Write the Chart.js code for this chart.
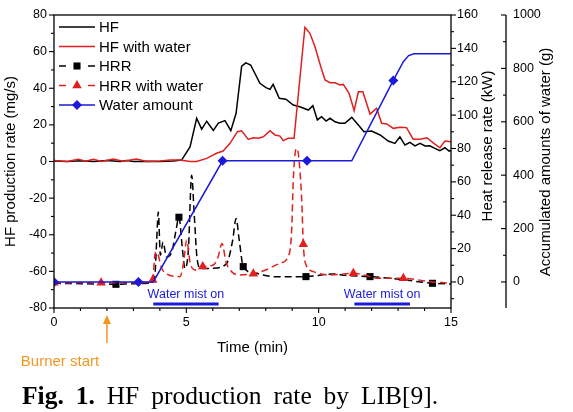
<!DOCTYPE html>
<html>
<head>
<meta charset="utf-8">
<script src="https://cdn.jsdelivr.net/npm/chart.js@4"></script>
<style>
  html, body { margin: 0; padding: 0; background: #fff; }
  #wrap { position: relative; width: 573px; height: 412px; overflow: hidden; }
  #c { position: absolute; left: 0; top: 0; }
  #caption { position: absolute; left: 22px; top: 381px; line-height: 29px; white-space: nowrap;
    font-family: "Liberation Serif", "Times New Roman", serif; font-size: 25.5px; word-spacing: 5.5px; color: #000; }
</style>
</head>
<body>
<div id="wrap">
  <canvas id="c" width="573" height="412"></canvas>
  <div id="caption"><b>Fig. 1.</b> HF production rate by LIB[9].</div>
</div>
<script>
// --- data (time in min) ---
const hfTime = [0,0.5,1,1.5,2,2.5,2.75,3,3.5,4,4.5,4.82,5.14,5.39,5.58,5.77,6.02,6.21,6.46,6.68,6.88,7.09,7.25,7.43,7.78,8.01,8.16,8.28,8.51,8.76,9.04,9.29,9.61,9.78,9.95,10.11,10.28,10.43,10.62,10.8,10.99,11.25,11.5,11.71,12.0,12.32,12.63,12.88,13.07,13.26,13.45,13.64,13.83,14.02,14.2,14.39,14.58,14.77,14.93,15];
const hfRate = [0.3,0,0.4,0,0.5,0,0.6,0,0.2,0,0.3,0.8,8,23.6,17.7,22,17,21,22.3,16.8,26.3,52.1,53.9,52.7,42.7,40.3,39.4,42.1,34.5,34,30.8,29.9,28.1,30.5,22.7,24.5,22.1,23.6,21.7,20.9,20.9,24.1,19.9,16.3,16.6,14.5,11.2,9.9,13.5,9.0,10.5,8.5,9.9,8.5,8.6,7.2,5.9,7.5,5.7,6];

const hfWaterTime = [0,0.5,0.92,1.2,1.49,1.8,2.24,2.6,3.12,3.5,4.0,4.4,4.76,5.14,5.39,5.77,6.14,6.39,6.65,6.93,7.09,7.34,7.53,7.72,7.91,8.16,8.35,8.54,8.66,8.85,9.07,9.48,9.67,9.86,10.08,10.24,10.43,10.62,10.8,10.93,11.15,11.34,11.5,11.67,11.94,12.19,12.38,12.57,12.82,13.07,13.32,13.57,13.83,14.09,14.34,14.58,14.77,15];
const hfWaterRate = [0.5,0,1.2,0.2,1.2,0,1.4,0.2,1.4,0,0.3,0.8,0.8,0,0,1.7,4.5,5.7,9.9,16.3,16.8,12.1,13,12.7,13.5,16.8,14.5,13.9,11.4,12.7,12.7,73.3,70,62.7,51.7,44.5,43,43,41.8,42.1,37.2,27.7,38.1,38.1,25.9,29,20.9,20.5,18.1,18.7,18.5,12.2,12.2,13,10,7.5,11.2,10.8];

const hrrTime = [0,1,2.34,3,3.6,3.8,3.88,3.94,4.02,4.12,4.25,4.45,4.6,4.72,4.85,4.95,5.08,5.2,5.3,5.4,5.55,6.0,6.52,6.75,6.88,7.0,7.15,7.6,8.3,8.9,9.52,10.55,11.0,11.94,13.07,14.3,15];
const hrrValue = [-0.8,-1,-1.4,-1,-0.8,2,25,42,16,24,15,18,30,38.8,20,8,20,64,40,15,8,8.2,11,25,38,25,9.2,5.2,3.2,3.2,3.2,4.8,4,3.2,1.6,-0.8,-1.2];
const hrrMarkers = [2.34,4.72,7.15,9.52,11.94,14.3];

const hrrWaterTime = [0,1.78,3.0,3.6,3.73,3.82,3.88,4.07,4.26,4.76,4.9,5.01,5.15,5.35,5.62,6.02,6.2,6.35,6.5,6.71,7.0,7.53,8.0,8.54,8.85,8.98,9.04,9.13,9.17,9.23,9.36,9.42,9.5,9.8,10.43,11.31,12.32,13.2,14.2,15];
const hrrWaterValue = [-0.5,-0.5,-0.5,-0.3,1.2,17,18,8.2,4.8,3.2,12,25,11,7.2,9.2,10.2,15,23,12,6.2,4.2,5,7.2,11.2,15.2,31,61,79,80,77,49,22.6,11.2,6.2,4.2,5.2,2.2,2.2,0.2,-0.8];
const hrrWaterMarkers = [0,1.78,3.73,5.62,7.53,9.42,11.31,13.2];

const waterTime = [0,3.19,3.75,6.37,9.56,11.25,12.82,13.2,13.4,13.6,15];
const waterAmount = [0,0,0,454,454,454,755,825,848,855,855];
const waterMarkers = [0,3.19,6.37,9.56,12.82];

const timeTicks = [0,5,10,15];
const hfTicks = [-80,-60,-40,-20,0,20,40,60,80];
const hrrTicks = [0,20,40,60,80,100,120,140,160];
const waterTicks = [0,200,400,600,800,1000];

const burnerTime = 2;
const mistPeriods = [[3.75, 6.22], [11.35, 13.45]];

const legendRows = ["HF", "HF with water", "HRR", "HRR with water", "Water amount"];

// --- styling ---
const fam = '"Liberation Sans", Arial, sans-serif';
const RED = "#e0201e", BLUE = "#1a1ad8", ORANGE = "#f4961e";
Chart.defaults.font.family = fam;
Chart.defaults.color = "#000";

const pts = (xs, ys) => xs.map((t, i) => ({ x: t, y: ys[i] }));
const markAt = (list, r) => ctx => (ctx.raw && list.includes(ctx.raw.x)) ? r : 0;

function axis(extra) {
  return Object.assign({
    grid: { display: false, drawTicks: false },
    border: { display: false },
    ticks: { color: "#000", font: { family: fam, size: 12.5 }, callback: v => String(v) }
  }, extra);
}

function tickLine(ctx, x1, y1, x2, y2) {
  ctx.beginPath(); ctx.moveTo(x1, y1); ctx.lineTo(x2, y2); ctx.stroke();
}

const decor = {
  id: "decor",
  afterDatasetsDraw(chart) {
    const { ctx, chartArea: a, scales: { x, y, yHRR, yWater } } = chart;
    ctx.save();
    ctx.strokeStyle = "#000";
    ctx.lineWidth = 1.3;
    ctx.strokeRect(a.left, a.top, a.right - a.left, a.bottom - a.top);
    const wx = yWater.left;
    tickLine(ctx, wx, a.top, wx, a.bottom);

    // ticks: major + minor
    ctx.lineWidth = 1.1;
    for (let v = 0; v <= 15; v += 1) {
      const px = x.getPixelForValue(v), len = timeTicks.includes(v) ? 5 : 3;
      tickLine(ctx, px, a.bottom, px, a.bottom + len);
    }
    for (let v = -80; v <= 80; v += 10) {
      const py = y.getPixelForValue(v), len = hfTicks.includes(v) ? 5 : 3;
      tickLine(ctx, a.left, py, a.left - len, py);
    }
    for (let v = -10; v <= 160; v += 10) {
      const py = yHRR.getPixelForValue(v), len = hrrTicks.includes(v) ? 5 : 3;
      tickLine(ctx, a.right, py, a.right + len, py);
    }
    for (let v = 0; v <= 1000; v += 100) {
      const py = yWater.getPixelForValue(v), len = waterTicks.includes(v) ? 5 : 3;
      tickLine(ctx, wx, py, wx - len, py);
    }

    // right axis titles (read bottom to top)
    ctx.fillStyle = "#000";
    ctx.font = "15px " + fam;
    ctx.textAlign = "center";
    ctx.textBaseline = "middle";
    [["Heat release rate (kW)", 488, 146], ["Accumulated amounts of water (g)", 546, 162]].forEach(([t, tx, ty]) => {
      ctx.save(); ctx.translate(tx, ty); ctx.rotate(-Math.PI / 2); ctx.fillText(t, 0, 0); ctx.restore();
    });

    // water mist periods
    ctx.font = "12.5px " + fam;
    ctx.fillStyle = BLUE;
    ctx.strokeStyle = BLUE;
    ctx.lineWidth = 3;
    mistPeriods.forEach(([t0, t1]) => {
      const x0 = x.getPixelForValue(t0), x1 = x.getPixelForValue(t1);
      tickLine(ctx, x0, 304, x1, 304);
      ctx.fillText("Water mist on", (x0 + x1) / 2, 295);
    });

    // burner start arrow
    const bx = x.getPixelForValue(burnerTime);
    ctx.strokeStyle = ORANGE; ctx.fillStyle = ORANGE; ctx.lineWidth = 1.5;
    tickLine(ctx, bx, 343, bx, 322);
    ctx.beginPath(); ctx.moveTo(bx, 315); ctx.lineTo(bx - 4, 324); ctx.lineTo(bx + 4, 324); ctx.closePath(); ctx.fill();
    ctx.font = "15px " + fam;
    ctx.fillText("Burner start", 60, 362);

    // legend
    legendRows.forEach((lab, i) => {
      const ds = chart.data.datasets.find(d => d.label === lab);
      const yy = 27 + i * 19.5;
      ctx.strokeStyle = ds.borderColor; ctx.fillStyle = ds.borderColor;
      ctx.lineWidth = ds.borderWidth;
      if (ds.borderDash) {
        tickLine(ctx, 59, yy, 66, yy);
        tickLine(ctx, 88, yy, 95, yy);
      } else {
        tickLine(ctx, 59, yy, 95, yy);
      }
      if (ds.pointStyle) {
        Chart.helpers.drawPoint(ctx, { pointStyle: ds.pointStyle, radius: ds.legendRadius, borderWidth: 0, rotation: 0 }, 77, yy);
      }
      ctx.fillStyle = "#000";
      ctx.textAlign = "left";
      ctx.fillText(lab, 99, yy + 1);
    });
    ctx.restore();
  }
};

new Chart(document.getElementById("c"), {
  type: "line",
  data: {
    datasets: [
      { label: "Water amount", data: pts(waterTime, waterAmount), yAxisID: "yWater",
        borderColor: BLUE, backgroundColor: BLUE, borderWidth: 1.5, tension: 0,
        pointStyle: "rectRot", legendRadius: 5, pointRadius: markAt(waterMarkers, 5), pointBorderWidth: 0 },
      { label: "HRR with water", data: pts(hrrWaterTime, hrrWaterValue), yAxisID: "yHRR",
        borderColor: RED, backgroundColor: RED, borderWidth: 1.5, borderDash: [7, 4], cubicInterpolationMode: "monotone",
        pointStyle: "triangle", legendRadius: 5.5, pointRadius: markAt(hrrWaterMarkers, 5.5), pointBorderWidth: 0 },
      { label: "HRR", data: pts(hrrTime, hrrValue), yAxisID: "yHRR",
        borderColor: "#000", backgroundColor: "#000", borderWidth: 1.5, borderDash: [7, 4], cubicInterpolationMode: "monotone",
        pointStyle: "rect", legendRadius: 5, pointRadius: markAt(hrrMarkers, 5), pointBorderWidth: 0 },
      { label: "HF with water", data: pts(hfWaterTime, hfWaterRate), yAxisID: "y",
        borderColor: RED, borderWidth: 1.5, tension: 0, pointRadius: 0 },
      { label: "HF", data: pts(hfTime, hfRate), yAxisID: "y",
        borderColor: "#000", borderWidth: 1.5, tension: 0, pointRadius: 0 }
    ]
  },
  options: {
    responsive: false,
    animation: false,
    events: [],
    layout: { padding: { top: 15, bottom: 44, left: 0, right: 0 } },
    plugins: { legend: { display: false }, tooltip: { enabled: false } },
    scales: {
      x: axis({ type: "linear", min: 0, max: 15,
        afterBuildTicks: s => { s.ticks = timeTicks.map(v => ({ value: v })); },
        afterFit: s => { s.height = 60; },
        ticks: { color: "#000", padding: 7, font: { family: fam, size: 12.5 }, callback: v => String(v) },
        title: { display: true, text: "Time (min)", color: "#000", font: { family: fam, size: 15 }, padding: { top: 0, bottom: 11 } } }),
      y: axis({ position: "left", min: -80, max: 80,
        afterBuildTicks: s => { s.ticks = hfTicks.map(v => ({ value: v })); },
        afterFit: s => { s.width = 54; },
        ticks: { color: "#000", padding: 7, font: { family: fam, size: 12.5 }, callback: v => String(v) },
        title: { display: true, text: "HF production rate (mg/s)", color: "#000", font: { family: fam, size: 15 }, padding: { top: 2, bottom: 0 } } }),
      yHRR: axis({ position: "right", min: -15.6, max: 160, weight: 0,
        afterBuildTicks: s => { s.ticks = hrrTicks.map(v => ({ value: v })); },
        afterFit: s => { s.width = 55; },
        ticks: { color: "#000", padding: 6, font: { family: fam, size: 12.5 }, callback: v => String(v) } }),
      yWater: axis({ position: "right", min: -97.5, max: 1000, weight: 1,
        afterBuildTicks: s => { s.ticks = waterTicks.map(v => ({ value: v })); },
        afterFit: s => { s.width = 67; },
        ticks: { color: "#000", padding: 7, font: { family: fam, size: 12.5 }, callback: v => String(v) } })
    }
  },
  plugins: [decor]
});
</script>
</body>
</html>
